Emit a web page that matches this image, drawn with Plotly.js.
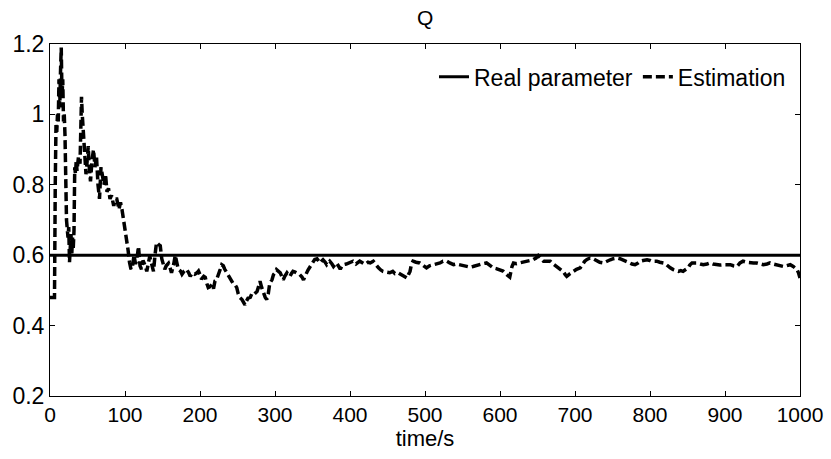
<!DOCTYPE html>
<html><head><meta charset="utf-8">
<script src="https://cdn.plot.ly/plotly-3.0.1.min.js"></script>
<style>html,body{margin:0;padding:0;background:#fff;}</style>
</head><body>
<div id="chart" style="width:831px;height:459px;"></div>
<script>
const timeS = [0,6,7,8,9,10,11,12,13,14,15,16,17,18,19,20,22,24,25,26,27,28,29,30,31,32,33,34,35,36,38,40,41,42,43,44,46,47,48,50,51,52,54,56,58,60,62,64,66,68,70,72,74,76,78,80,82,85,87,89,92,94,96,100,104,106,108,110,112,114,116,118,120,122,124,127,129,133,136,138,140,142,145,147,149,151,153,155,158,160,162,165,167,169,171,174,176,179,182,185,187,190,193,196,198,200,202,205,207,209,211,213,216,218,220,222,224,227,229,231,233,236,238,241,244,247,249,251,253,256,258,260,262,264,267,269,271,273,276,278,280,282,284,287,289,291,293,296,298,300,302,304,307,309,311,313,316,318,320,322,324,327,329,331,333,336,338,340,342,344,347,349,351,353,356,358,360,362,364,367,369,371,373,376,378,380,382,385,387,389,391,395,398,400,404,408,413,417,420,424,427,431,434,438,441,444,448,453,457,460,464,468,471,474,476,478,480,482,484,488,493,497,502,506,511,515,520,524,529,533,538,542,547,551,556,560,564,569,573,577,582,586,591,595,600,604,609,611,613,616,618,622,627,631,636,640,644,648,651,655,658,662,667,671,676,680,684,687,689,693,698,702,707,710,713,716,720,724,729,733,738,742,747,751,756,760,764,769,773,776,780,784,787,791,796,800,802,806,809,813,818,822,824,827,831,834,838,841,844,848,851,853,856,859,862,867,871,876,880,884,889,893,898,902,907,911,916,920,924,929,933,938,942,947,951,956,960,964,969,973,978,982,987,991,996,998,1000];
const estimation = [0.48,0.48,0.80,0.97,0.95,1.00,0.98,1.10,1.02,1.12,1.19,1.05,1.10,0.98,1.00,0.94,0.70,0.65,0.68,0.58,0.62,0.66,0.60,0.65,0.62,0.67,0.85,0.83,0.87,0.84,0.88,0.86,0.95,1.05,1.00,0.96,0.92,0.86,0.83,0.88,0.91,0.86,0.81,0.87,0.90,0.85,0.88,0.80,0.76,0.85,0.82,0.80,0.83,0.78,0.79,0.76,0.77,0.74,0.76,0.76,0.73,0.75,0.73,0.68,0.616,0.58,0.56,0.568,0.60,0.575,0.59,0.625,0.57,0.56,0.585,0.57,0.554,0.597,0.57,0.554,0.60,0.636,0.63,0.627,0.59,0.575,0.56,0.57,0.577,0.565,0.55,0.575,0.60,0.58,0.56,0.555,0.546,0.555,0.56,0.55,0.54,0.55,0.546,0.55,0.555,0.545,0.532,0.54,0.537,0.52,0.508,0.51,0.517,0.505,0.527,0.53,0.54,0.56,0.573,0.57,0.56,0.55,0.54,0.53,0.52,0.515,0.508,0.49,0.48,0.474,0.465,0.459,0.47,0.478,0.48,0.49,0.487,0.49,0.497,0.51,0.526,0.51,0.497,0.48,0.474,0.49,0.52,0.53,0.545,0.55,0.559,0.555,0.55,0.54,0.53,0.54,0.55,0.545,0.54,0.548,0.554,0.552,0.55,0.548,0.545,0.538,0.53,0.54,0.55,0.558,0.568,0.575,0.583,0.588,0.59,0.582,0.578,0.583,0.587,0.58,0.573,0.578,0.583,0.575,0.568,0.573,0.578,0.568,0.56,0.568,0.573,0.575,0.578,0.578,0.583,0.575,0.583,0.578,0.574,0.58,0.578,0.583,0.574,0.564,0.558,0.554,0.552,0.55,0.554,0.548,0.55,0.545,0.54,0.538,0.535,0.545,0.554,0.575,0.583,0.58,0.578,0.572,0.564,0.57,0.573,0.577,0.578,0.583,0.583,0.578,0.573,0.575,0.573,0.57,0.568,0.566,0.568,0.572,0.573,0.576,0.578,0.572,0.564,0.562,0.559,0.555,0.545,0.54,0.538,0.568,0.578,0.576,0.578,0.58,0.583,0.585,0.587,0.592,0.599,0.59,0.583,0.583,0.583,0.575,0.568,0.56,0.554,0.545,0.54,0.547,0.554,0.56,0.564,0.575,0.583,0.588,0.592,0.59,0.583,0.58,0.578,0.583,0.587,0.59,0.592,0.59,0.587,0.583,0.578,0.575,0.573,0.578,0.583,0.585,0.587,0.585,0.583,0.583,0.583,0.58,0.578,0.573,0.568,0.564,0.559,0.556,0.554,0.556,0.554,0.56,0.564,0.572,0.578,0.578,0.578,0.575,0.573,0.575,0.578,0.575,0.573,0.572,0.573,0.574,0.573,0.57,0.568,0.578,0.583,0.58,0.578,0.578,0.578,0.575,0.573,0.575,0.578,0.575,0.573,0.57,0.568,0.57,0.573,0.568,0.559,0.55,0.535];
const realTime = [0, 1000];
const realValue = [0.6, 0.6];
const xTicks = [0,100,200,300,400,500,600,700,800,900,1000];
const yTicks = [0.2,0.4,0.6,0.8,1,1.2];
const yTickText = ['0.2','0.4','0.6','0.8','1','1.2'];

const fam = 'Liberation Sans, Arial, sans-serif';
const traces = [
  {x: realTime, y: realValue, mode: 'lines', name: 'Real parameter',
   line: {color: '#000', width: 3}},
  {x: timeS, y: estimation, mode: 'lines', name: 'Estimation',
   line: {color: '#000', width: 3.5, dash: '9px,4px'}}
];
const axisBase = {showgrid: false, zeroline: false, showline: true, linecolor: '#000', linewidth: 1,
  mirror: 'ticks', ticks: 'inside', ticklen: 5, tickcolor: '#000'};
const layout = {
  width: 831, height: 459,
  margin: {l: 50, r: 31, t: 44, b: 63},
  paper_bgcolor: '#fff', plot_bgcolor: '#fff',
  font: {family: fam, size: 20, color: '#000'},
  title: {text: 'Q', font: {family: fam, size: 21, color: '#000'}, x: 0.5115, xanchor: 'center', y: 0.962, yanchor: 'middle'},
  xaxis: Object.assign({}, axisBase, {range: [0, 1000], tickvals: xTicks, ticktext: xTicks.map(String),
    tickfont: {family: fam, size: 21, color: '#000'},
    title: {text: 'time/s', font: {family: fam, size: 22, color: '#000'}, standoff: 3}}),
  yaxis: Object.assign({}, axisBase, {range: [0.2, 1.2], tickvals: yTicks, ticktext: yTickText,
    tickfont: {family: fam, size: 23, color: '#000'}}),
  showlegend: true,
  legend: {orientation: 'h', x: 0.988, xanchor: 'right', y: 0.968, yanchor: 'top',
    bgcolor: 'rgba(255,255,255,0)', borderwidth: 0, font: {family: fam, size: 23, color: '#000'}}
};
Plotly.newPlot('chart', traces, layout, {displayModeBar: false, staticPlot: true});
</script>
</body></html>
